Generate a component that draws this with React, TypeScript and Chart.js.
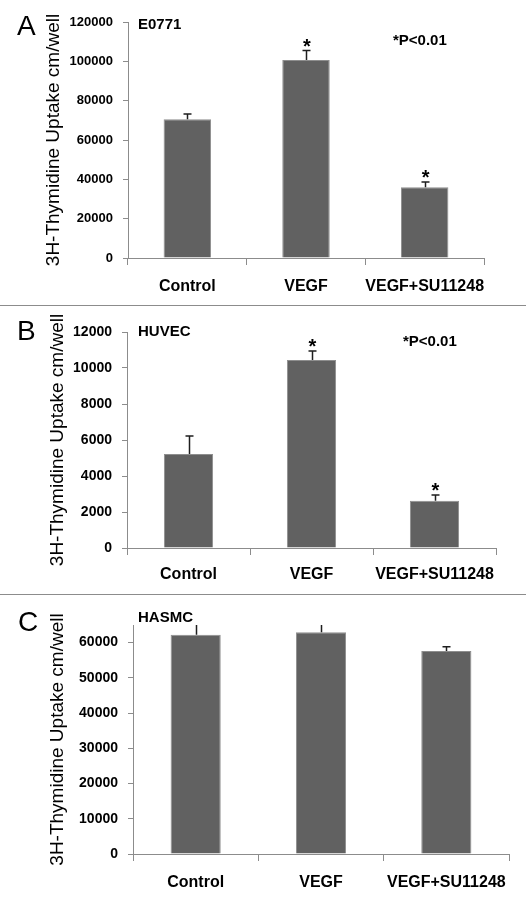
import React, { useEffect, useRef } from 'react';
import { Chart, registerables } from 'chart.js';

Chart.register(...registerables);

// ---------- data ----------
const categories = ['Control', 'VEGF', 'VEGF+SU11248'];

const e0771Values = [70500, 100700, 36000];
const e0771Errors = [2700, 4800, 2700];
const e0771Significant = [false, true, true];

const huvecValues = [5220, 10450, 2620];
const huvecErrors = [1000, 500, 320];
const huvecSignificant = [false, true, true];

const hasmcValues = [62200, 62950, 57650];
const hasmcErrors = [4000, 3000, 1200];
const hasmcSignificant = [false, false, false];

const e0771Max = 120000;
const e0771Ticks = [0, 20000, 40000, 60000, 80000, 100000, 120000];
const huvecMax = 12000;
const huvecTicks = [0, 2000, 4000, 6000, 8000, 10000, 12000];
const hasmcMax = 65000;
const hasmcTicks = [0, 10000, 20000, 30000, 40000, 50000, 60000];

const yTitle = '3H-Thymidine Uptake cm/well';
const pValueText = '*P<0.01';

// ---------- styling ----------
const FAMILY = "'Liberation Sans', Arial, Helvetica, sans-serif";
const AXIS_COLOR = '#8c8c8c';
const BAR_COLOR = '#616161';
const BAR_BORDER = '#8e8e8e';

type Panel = {
  letter: string;
  cellLine: string;
  pText: string | null;
  values: number[];
  errors: number[];
  significant: boolean[];
  max: number;
  ticks: number[];
  top: number;
  height: number;
  left: number;
  right: number;
  areaTop: number;
  areaBottom: number;
  tickSize: number;
  titleX: number;
  letterPos: [number, number];
  cellPos: [number, number];
  pPos: [number, number];
  xLabelPad: number;
};

const panels: Panel[] = [
  {
    letter: 'A', cellLine: 'E0771', pText: pValueText,
    values: e0771Values, errors: e0771Errors, significant: e0771Significant,
    max: e0771Max, ticks: e0771Ticks,
    top: 0, height: 304, left: 128, right: 484, areaTop: 22, areaBottom: 258,
    tickSize: 13, titleX: 54, letterPos: [17, 27], cellPos: [138, 25], pPos: [393, 41], xLabelPad: 12,
  },
  {
    letter: 'B', cellLine: 'HUVEC', pText: pValueText,
    values: huvecValues, errors: huvecErrors, significant: huvecSignificant,
    max: huvecMax, ticks: huvecTicks,
    top: 306, height: 288, left: 127, right: 496, areaTop: 26, areaBottom: 242,
    tickSize: 14, titleX: 58, letterPos: [17, 26], cellPos: [138, 26], pPos: [403, 36], xLabelPad: 10,
  },
  {
    letter: 'C', cellLine: 'HASMC', pText: null,
    values: hasmcValues, errors: hasmcErrors, significant: hasmcSignificant,
    max: hasmcMax, ticks: hasmcTicks,
    top: 595, height: 312, left: 133, right: 509, areaTop: 30, areaBottom: 259,
    tickSize: 14, titleX: 58, letterPos: [18, 28], cellPos: [138, 23], pPos: [0, 0], xLabelPad: 12,
  },
];

function PanelChart({ p }: { p: Panel }) {
  const ref = useRef<HTMLCanvasElement | null>(null);

  useEffect(() => {
    if (!ref.current) return;
    const titleSize = 19;
    const titleLine = titleSize * 1.2;

    const overlay = {
      id: 'overlay' + p.letter,
      afterDatasetsDraw(chart: any) {
        const ctx = chart.ctx;
        const area = chart.chartArea;
        const ys = chart.scales.y;
        const meta = chart.getDatasetMeta(0);
        ctx.save();
        ctx.beginPath();
        ctx.rect(area.left, area.top, area.right - area.left, area.bottom - area.top);
        ctx.clip();
        ctx.strokeStyle = '#1e1e1e';
        ctx.lineWidth = 1.5;
        meta.data.forEach((bar: any, i: number) => {
          const x = Math.round(bar.x) + 0.5;
          const yb = ys.getPixelForValue(p.values[i]);
          const yt = ys.getPixelForValue(p.values[i] + p.errors[i]);
          ctx.beginPath();
          ctx.moveTo(x, yb);
          ctx.lineTo(x, yt);
          ctx.moveTo(x - 4, yt);
          ctx.lineTo(x + 4, yt);
          ctx.stroke();
        });
        ctx.restore();

        ctx.save();
        ctx.fillStyle = '#000';
        ctx.font = `bold 20px ${FAMILY}`;
        ctx.textAlign = 'center';
        ctx.textBaseline = 'alphabetic';
        const m = ctx.measureText('*');
        meta.data.forEach((bar: any, i: number) => {
          if (!p.significant[i]) return;
          const yt = ys.getPixelForValue(p.values[i] + p.errors[i]);
          const center = yt - 8;
          const base = center + (m.actualBoundingBoxAscent - m.actualBoundingBoxDescent) / 2;
          ctx.fillText('*', bar.x + 1, base);
        });
        ctx.restore();
      },
      afterDraw(chart: any) {
        const ctx = chart.ctx;
        ctx.save();
        ctx.fillStyle = '#000';
        ctx.textBaseline = 'middle';
        ctx.textAlign = 'left';
        ctx.font = `normal 28px ${FAMILY}`;
        ctx.fillText(p.letter, p.letterPos[0], p.letterPos[1]);
        ctx.font = `bold 15px ${FAMILY}`;
        ctx.fillText(p.cellLine, p.cellPos[0], p.cellPos[1]);
        if (p.pText) {
          ctx.fillText(p.pText, p.pPos[0], p.pPos[1]);
        }
        ctx.restore();
      },
    };

    const chart = new Chart(ref.current, {
      type: 'bar',
      data: {
        labels: categories,
        datasets: [
          {
            data: p.values,
            backgroundColor: BAR_COLOR,
            borderColor: BAR_BORDER,
            borderWidth: 1,
            barPercentage: 0.4,
            categoryPercentage: 1.0,
          },
        ],
      },
      options: {
        animation: false,
        responsive: false,
        maintainAspectRatio: false,
        devicePixelRatio: 1,
        layout: {
          padding: { top: p.areaTop, right: 526 - p.right, bottom: 0, left: 0 },
        },
        plugins: {
          legend: { display: false },
          tooltip: { enabled: false },
          title: { display: false },
        },
        scales: {
          x: {
            type: 'category',
            offset: true,
            grid: {
              offset: true,
              drawOnChartArea: false,
              drawTicks: true,
              tickLength: 7,
              color: AXIS_COLOR,
              lineWidth: 1,
            },
            border: { display: true, color: AXIS_COLOR, width: 1 },
            ticks: {
              color: '#000',
              font: { family: FAMILY, size: 16, weight: 'bold' },
              padding: p.xLabelPad,
              autoSkip: false,
              maxRotation: 0,
              minRotation: 0,
            },
            afterFit: (scale: any) => {
              scale.height = p.height - p.areaBottom;
            },
          },
          y: {
            type: 'linear',
            min: 0,
            max: p.max,
            grid: {
              drawOnChartArea: false,
              drawTicks: true,
              tickLength: 5,
              color: AXIS_COLOR,
              lineWidth: 1,
            },
            border: { display: true, color: AXIS_COLOR, width: 1 },
            ticks: {
              color: '#000',
              padding: 10,
              font: { family: FAMILY, size: p.tickSize, weight: 'bold' },
              callback: (v: any) => String(v),
            },
            afterBuildTicks: (scale: any) => {
              scale.ticks = p.ticks.map((v) => ({ value: v }));
            },
            title: {
              display: true,
              text: yTitle,
              color: '#000',
              font: { family: FAMILY, size: titleSize, weight: 'normal' },
              padding: { top: p.titleX - titleLine / 2, bottom: 0 },
            },
            afterFit: (scale: any) => {
              scale.width = p.left;
            },
          },
        },
      },
      plugins: [overlay],
    } as any);

    return () => {
      chart.destroy();
    };
  }, [p]);

  return (
    <canvas
      ref={ref}
      width={526}
      height={p.height}
      style={{ position: 'absolute', left: 0, top: p.top, width: 526, height: p.height }}
    />
  );
}

export default function App() {
  return (
    <div
      style={{
        position: 'absolute',
        left: 0,
        top: 0,
        width: 526,
        height: 907,
        background: '#fff',
        overflow: 'hidden',
      }}
    >
      {panels.map((p) => (
        <PanelChart key={p.letter} p={p} />
      ))}
      <div style={{ position: 'absolute', left: 0, top: 305, width: 526, height: 1, background: '#8c8c8c' }} />
      <div style={{ position: 'absolute', left: 0, top: 594, width: 526, height: 1, background: '#8c8c8c' }} />
    </div>
  );
}
